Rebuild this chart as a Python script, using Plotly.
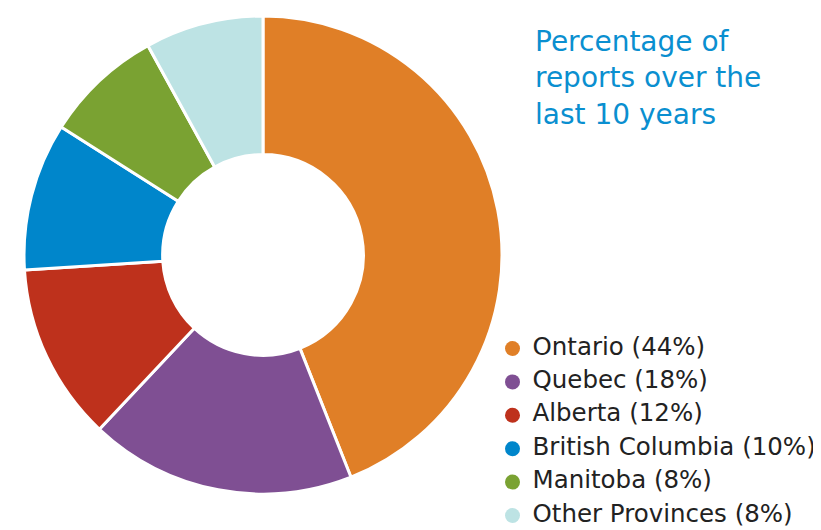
import plotly.graph_objects as go

categories = ["Ontario", "Quebec", "Alberta", "British Columbia", "Manitoba", "Other Provinces"]
values = [44, 18, 12, 10, 8, 8]
colors = ["#E07F27", "#7F4F93", "#BE311C", "#0086CB", "#7AA232", "#BDE3E4"]
title_text = "Percentage of<br>reports over the<br>last 10 years"

# page body adds an 8px margin, so the figure is laid out 8px up/left
OFF = 8
W, H = 821 - OFF, 530 - OFF
cx, cy, r = 263 - OFF, 255 - OFF, 239

fig = go.Figure()
fig.add_trace(go.Pie(
    labels=categories, values=values, sort=False, direction="clockwise",
    rotation=0, hole=0.42, textinfo="none", hoverinfo="label+percent",
    marker=dict(colors=colors, line=dict(color="white", width=3)),
    domain=dict(x=[(cx - r) / W, (cx + r) / W], y=[(H - cy - r) / H, (H - cy + r) / H]),
    showlegend=False,
))

# custom legend: circle markers with labels, laid out on a hidden pixel-like axis
legend_labels = [f"{c} ({v}%)" for c, v in zip(categories, values)]
leg_x0, leg_y0, leg_dy = 512.5 - OFF, 348.5 - OFF, 33.4
leg_y = [leg_y0 + i * leg_dy for i in range(len(categories))]
fig.add_trace(go.Scatter(
    x=[leg_x0] * len(categories), y=leg_y, mode="markers",
    marker=dict(symbol="circle", size=15, color=colors),
    hoverinfo="skip", showlegend=False, cliponaxis=False,
))
fig.add_trace(go.Scatter(
    x=[leg_x0 + 20] * len(categories), y=leg_y, mode="text",
    text=legend_labels, textposition="middle right",
    textfont=dict(size=24.5, color="#222222", family="DejaVu Sans"),
    hoverinfo="skip", showlegend=False, cliponaxis=False,
))

fig.update_layout(
    width=W, height=H, margin=dict(l=0, r=0, t=0, b=0),
    paper_bgcolor="white", plot_bgcolor="rgba(0,0,0,0)",
    xaxis=dict(visible=False, range=[0, W], fixedrange=True),
    yaxis=dict(visible=False, range=[H, 0], fixedrange=True),
    showlegend=False,
    annotations=[dict(text=title_text, x=525 / W, y=1 - 15 / H, xref="paper", yref="paper",
                      xanchor="left", yanchor="top", align="left", showarrow=False,
                      font=dict(size=28, color="#0A8FD0", family="DejaVu Sans"))],
)

fig.write_html("out.html")
